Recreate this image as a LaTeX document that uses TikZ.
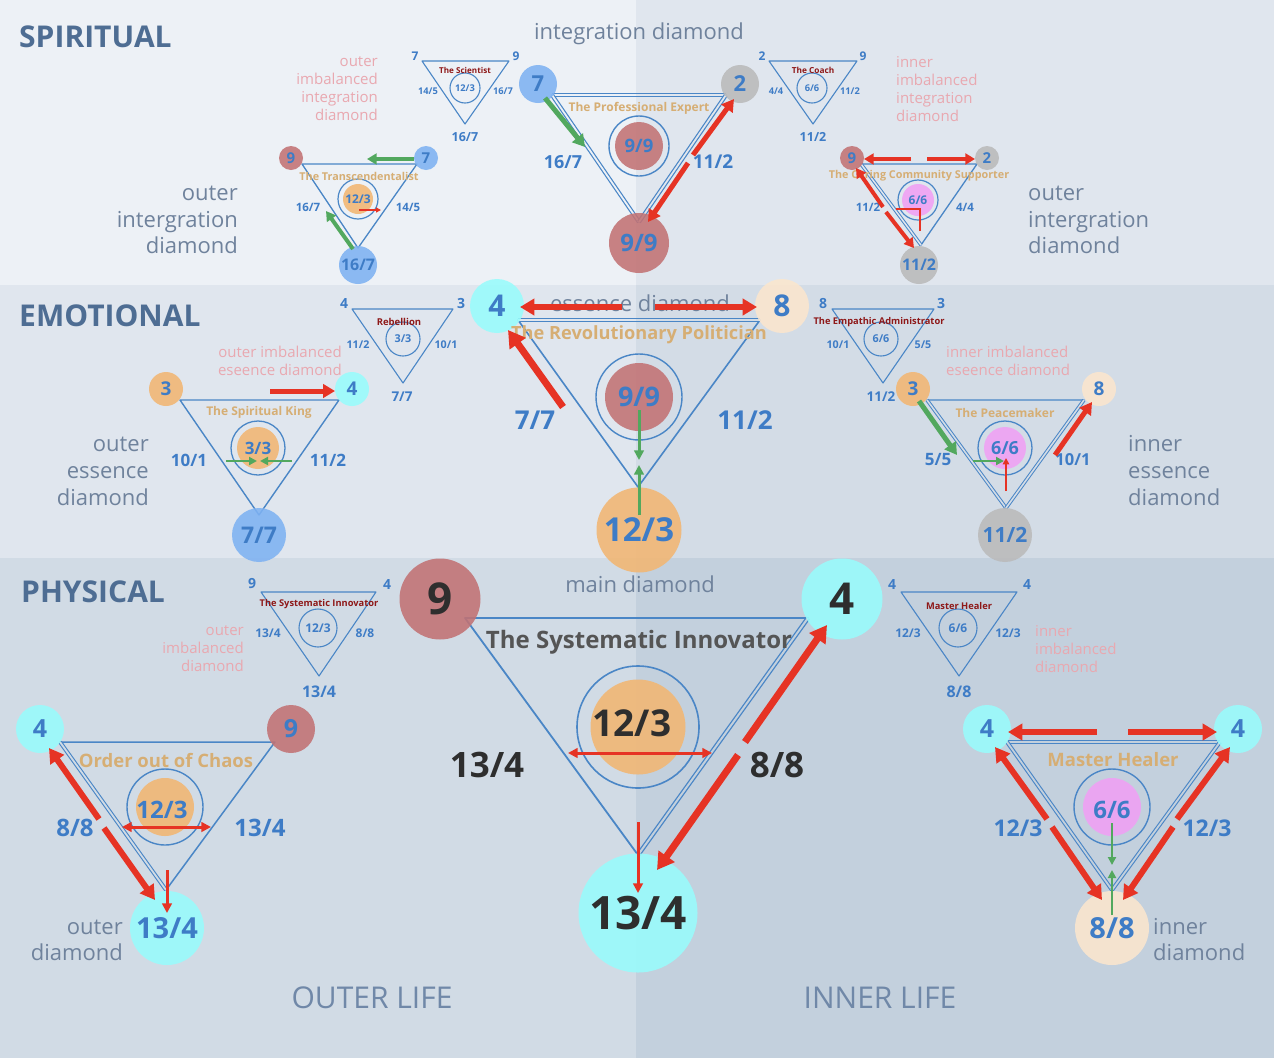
\documentclass[tikz,border=0pt]{standalone}
\usepackage{fontspec}
\setmainfont{Open Sans}
\usetikzlibrary{arrows.meta}
\definecolor{tblue}{HTML}{3E7CC6}
\definecolor{lblue}{HTML}{4A86C6}
\definecolor{ccyan}{HTML}{98FCFC}
\definecolor{cred}{HTML}{C27274}
\definecolor{cgray}{HTML}{BABABA}
\definecolor{cblue}{HTML}{7EB2F2}
\definecolor{corange}{HTML}{F2B672}
\definecolor{cbeige}{HTML}{FBE6CE}
\definecolor{cpink}{HTML}{F0A0F4}
\definecolor{arred}{HTML}{E63324}
\definecolor{argreen}{HTML}{52A85E}
\definecolor{ttan}{HTML}{D6AE74}
\definecolor{tdred}{HTML}{8E1818}
\definecolor{tpink}{HTML}{E9A8B0}
\definecolor{tgray}{HTML}{6F829C}
\definecolor{tlife}{HTML}{7088A8}
\definecolor{ttitle}{HTML}{4E6D93}
\definecolor{tdark}{HTML}{2E2E2E}
\definecolor{tsys}{HTML}{555555}
\definecolor{bgA}{HTML}{EDF1F6}
\definecolor{bgB}{HTML}{E0E6EE}
\definecolor{bgC}{HTML}{D3DCE6}
\definecolor{bgD}{HTML}{D1DBE5}
\definecolor{bgE}{HTML}{C3D0DD}
\newcommand\fsz[2]{\fontsize{#1}{#2}\selectfont}
\pgfdeclarelayer{bgl}
\pgfdeclarelayer{tril}
\pgfdeclarelayer{arrl}
\pgfsetlayers{bgl,tril,main,arrl}
\begin{document}
\begin{tikzpicture}[x=1pt,y=-1pt,
  tri/.style={draw=lblue, line width=1.6pt, line join=round},
  stri/.style={draw=lblue, line width=1.1pt, line join=round},
  dbl/.style={draw=lblue, line width=1.2pt, double=#1, double distance=1.8pt},
  ring/.style={draw=lblue, line width=1.4pt},
  sring/.style={circle, draw=lblue, line width=1.1pt, inner sep=0pt, minimum size=#1},
  cir/.style={circle, inner sep=0pt, minimum size=#1, fill opacity=0.88, text opacity=1},
  tb/.style={text=tblue, inner sep=0pt, font={\fsz{#1}{#1}\bfseries}},
  tk/.style={text=tdark, inner sep=0pt, font={\fsz{#1}{#1}\bfseries}},
  tt/.style={text=ttan, inner sep=0pt, font={\fsz{#1}{#1}\bfseries}},
  tr/.style={text=tdred, inner sep=0pt, font={\fsz{#1}{#1}\bfseries}},
  tsec/.style={text=ttitle, inner sep=0pt, font={\fsz{30}{30}\bfseries}},
  tg/.style 2 args={text=tgray, inner sep=0pt, font={\fsz{#1}{#2}}},
  tp/.style 2 args={text=tpink, inner sep=0pt, font={\fsz{#1}{#2}}},
  ra/.style={draw=arred, line width=#1, -{Triangle[length=0pt 2.4 0, width=0pt 2.7 0]}},
  rat/.style={draw=arred, line width=#1, -{Triangle[length=0pt 3.2 0, width=0pt 3.2 0]}},
  rdt/.style={draw=arred, line width=#1, {Triangle[length=0pt 3.2 0, width=0pt 3.2 0]}-{Triangle[length=0pt 3.2 0, width=0pt 3.2 0]}},
  ga/.style={draw=argreen, line width=#1, -{Triangle[length=0pt 2.4 0, width=0pt 2.7 0]}},
  gat/.style={draw=argreen, line width=#1, -{Triangle[length=0pt 3.2 0, width=0pt 3.2 0]}},
]
\path[use as bounding box] (0,0) rectangle (1274,1058);
% ---------------- backgrounds
\begin{pgfonlayer}{bgl}
\fill[bgA] (0,0) rectangle (636,285);
\fill[bgB] (636,0) rectangle (1274,285);
\fill[bgB] (0,285) rectangle (636,558);
\fill[bgC] (636,285) rectangle (1274,558);
\fill[bgD] (0,558) rectangle (636,1058);
\fill[bgE] (636,558) rectangle (1274,1058);
\end{pgfonlayer}
% ---------------- section titles and descriptors
\node[tsec, anchor=west] (sSp) at (19,37) {SPIRITUAL};
\node[tsec, anchor=west] (sEm) at (19,316) {EMOTIONAL};
\node[tsec, anchor=west] (sPh) at (21,592) {PHYSICAL};
\node[tg={22}{26}] (dInt) at (639,34) {integration diamond};
\node[tg={22}{26}] (dEss) at (640,303) {essence diamond};
\node[tg={22}{26}] (dMain) at (640,584) {main diamond};
\node[tg={22}{26.5}, align=right, anchor=east] (dOI) at (238,220) {outer\\intergration\\diamond};
\node[tg={22}{26.5}, align=left, anchor=west] (dII) at (1028,220) {outer\\intergration\\diamond};
\node[tg={22}{27}, align=right, anchor=east] (dOE) at (149,471) {outer\\essence\\diamond};
\node[tg={22}{27}, align=left, anchor=west] (dIE) at (1128,471) {inner\\essence\\diamond};
\node[tg={22}{26}, align=right, anchor=east] (dOD) at (123,940) {outer\\diamond};
\node[tg={22}{26}, align=left, anchor=west] (dID) at (1153,940) {inner\\diamond};
\node[text=tlife, inner sep=0pt, font={\fsz{30}{30}}] (oLife) at (372,998) {OUTER LIFE};
\node[text=tlife, inner sep=0pt, font={\fsz{30}{30}}] (iLife) at (880,998) {INNER LIFE};
\node[tp={15}{18}, align=right, anchor=east] (pOI) at (378,89) {outer\\imbalanced\\integration\\diamond};
\node[tp={15}{18}, align=left, anchor=west] (pII) at (896,89) {inner\\imbalanced\\integration\\diamond};
\node[tp={15}{18}, align=right, anchor=east] (pOE) at (342,361) {outer imbalanced\\eseence diamond};
\node[tp={15}{18}, align=left, anchor=west] (pIE) at (946,361) {inner imbalanced\\eseence diamond};
\node[tp={15}{18}, align=right, anchor=east] (pOD) at (244,649) {outer\\imbalanced\\diamond};
\node[tp={15}{18}, align=left, anchor=west] (pID) at (1035,649) {inner\\imbalanced\\diamond};

% ================= SPIRITUAL =================
% main integration diamond
\begin{pgfonlayer}{tril}
\draw[tri] (552,95) -- (726,95) -- (639,222) -- cycle;
\draw[dbl=bgA] (552,95) -- (636,95);
\draw[dbl=bgB] (636,95) -- (726,95);
\draw[dbl=bgA] (552,95) -- (639,222);
\draw[dbl=bgB] (726,95) -- (639,222);
\draw[ring] (639,146) circle[radius=30pt];
\end{pgfonlayer}
\node[cir=38pt, fill=cblue, tb=22] (i7) at (538,84) {7};
\node[cir=38pt, fill=cgray, tb=22] (i2) at (740,84) {2};
\node[cir=48pt, fill=cred, tb=18.5] (i99) at (639,146) {9/9};
\node[cir=60pt, fill=cred, tb=24] (iB) at (639,243) {9/9};
\node[tt=12] (iT) at (639,108) {The Professional Expert};
\node[tb=18] (iL1) at (563,162) {16/7};
\node[tb=19] (iL2) at (713,162) {11/2};
\begin{pgfonlayer}{arrl}
\draw[ga=5pt] (545,98) -- (585,147);
\draw[ra=5pt] (693,155) -- (734,99);
\draw[ra=5pt] (688,163) -- (648,222);
\end{pgfonlayer}
% The Scientist
\begin{pgfonlayer}{tril}
\draw[stri] (422,61) -- (509,61) -- (465,124) -- cycle;
\end{pgfonlayer}
\node[sring=30pt, tb=9.3] (sciC) at (465,88) {12/3};
\node[tr=8.1] (sciT) at (465,70) {The Scientist};
\node[tb=12] (sciA) at (415,56) {7};
\node[tb=12] (sciB) at (516,56) {9};
\node[tb=9.3] (sciL) at (428,91) {14/5};
\node[tb=9.3] (sciR) at (503,91) {16/7};
\node[tb=12.5] (sciD) at (465,137) {16/7};
% The Coach
\begin{pgfonlayer}{tril}
\draw[stri] (769,61) -- (857,61) -- (813,124) -- cycle;
\end{pgfonlayer}
\node[sring=30pt, tb=9.3] (coC) at (812,88) {6/6};
\node[tr=8.3] (coT) at (813,70) {The Coach};
\node[tb=12] (coA) at (762,56) {2};
\node[tb=12] (coB) at (863,56) {9};
\node[tb=9.3] (coL) at (776,91) {4/4};
\node[tb=9.3] (coR) at (850,91) {11/2};
\node[tb=12.5] (coD) at (813,137) {11/2};
% The Transcendentalist
\begin{pgfonlayer}{tril}
\draw[tri, line width=1.3pt] (302,164) -- (417,164) -- (358,248) -- cycle;
\draw[ring, line width=1.2pt] (358,199) circle[radius=20pt];
\end{pgfonlayer}
\node[cir=24pt, fill=cred, tb=15] (tr9) at (291,158) {9};
\node[cir=24pt, fill=cblue, tb=15] (tr7) at (426,158) {7};
\node[cir=30pt, fill=corange, tb=12] (trC) at (358,199) {12/3};
\node[cir=38pt, fill=cblue, tb=16] (trB) at (358,265) {16/7};
\node[tt=10.8] (trT) at (359,176) {The Transcendentalist};
\node[tb=11.5] (trL) at (308,207) {16/7};
\node[tb=11.5] (trR) at (408,207) {14/5};
\begin{pgfonlayer}{arrl}
\draw[rat=1.5pt] (359,210) -- (381,210);
\draw[ga=4pt] (414,159) -- (367,159);
\draw[ga=4pt] (353,249) -- (326,211);
\end{pgfonlayer}
% The Caring Community Supporter
\begin{pgfonlayer}{tril}
\draw[tri, line width=1.3pt] (861,164) -- (977,164) -- (921,245) -- cycle;
\draw[dbl=bgB, line width=1pt, double distance=1.5pt] (861,164) -- (921,245);
\draw[ring, line width=1.2pt] (918,200) circle[radius=20pt];
\end{pgfonlayer}
\node[cir=24pt, fill=cred, tb=15] (cc9) at (852,158) {9};
\node[cir=24pt, fill=cgray, tb=15] (cc2) at (987,158) {2};
\node[cir=32pt, fill=cpink, tb=12] (ccC) at (918,200) {6/6};
\node[cir=38pt, fill=cgray, tb=16] (ccB) at (919,265) {11/2};
\node[tt=10.8] (ccT) at (919,176) {The Caring Community Supporter};
\node[tb=11.5] (ccL) at (868,207) {11/2};
\node[tb=11.5] (ccR) at (965,207) {4/4};
\begin{pgfonlayer}{arrl}
\draw[arred, line width=1.5pt] (896,209) -- (920,209) -- (920,231);
\draw[ra=4pt] (911,159) -- (864,159);
\draw[ra=4pt] (927,159) -- (975,159);
\draw[ra=4pt] (883,207) -- (856,168);
\draw[ra=4pt] (886,212) -- (914,248);
\end{pgfonlayer}

% ================= EMOTIONAL =================
% main essence diamond
\begin{pgfonlayer}{tril}
\draw[tri] (518,320) -- (760,320) -- (638,487) -- cycle;
\draw[dbl=bgB] (518,320) -- (636,320);
\draw[dbl=bgC] (636,320) -- (760,320);
\draw[ring] (639,397) circle[radius=43pt];
\end{pgfonlayer}
\node[cir=54pt, fill=ccyan, tb=30] (e4) at (497,306) {4};
\node[cir=54pt, fill=cbeige, tb=30] (e8) at (782,306) {8};
\node[cir=68pt, fill=cred, tb=27] (e99) at (639,397) {9/9};
\node[cir=85pt, fill=corange, tb=33] (eB) at (639,530) {12/3};
\node[tt=18.2] (eT) at (639,335) {The Revolutionary Politician};
\node[tb=26] (eL1) at (535,420) {7/7};
\node[tb=26] (eL2) at (745,420) {11/2};
\begin{pgfonlayer}{arrl}
\draw[ra=6pt] (622,307) -- (520,307);
\draw[ra=6pt] (655,307) -- (757,307);
\draw[ra=7pt] (563,407) -- (508,330);
\draw[gat=3pt] (639,410) -- (639,460);
\draw[gat=3pt] (639,515) -- (639,465);
\end{pgfonlayer}
% The Spiritual King
\begin{pgfonlayer}{tril}
\draw[tri, line width=1.4pt] (180,400) -- (339,400) -- (259,515) -- cycle;
\draw[ring, line width=1.3pt] (258,448) circle[radius=27pt];
\end{pgfonlayer}
\node[cir=34pt, fill=corange, tb=19] (sk3) at (166,389) {3};
\node[cir=34pt, fill=ccyan, tb=19] (sk4) at (352,389) {4};
\node[cir=42pt, fill=corange, tb=17] (skC) at (258,448) {3/3};
\node[cir=54pt, fill=cblue, tb=23] (skB) at (259,535) {7/7};
\node[tt=12] (skT) at (259,412) {The Spiritual King};
\node[tb=17] (skL) at (189,460) {10/1};
\node[tb=17] (skR) at (328,460) {11/2};
\begin{pgfonlayer}{arrl}
\draw[gat=2.5pt] (226,461) -- (257,461);
\draw[gat=2.5pt] (292,461) -- (260,461);
\draw[ra=5pt] (270,391) -- (335,391);
\end{pgfonlayer}
% Rebellion
\begin{pgfonlayer}{tril}
\draw[stri] (352,309) -- (453,309) -- (403,383) -- cycle;
\end{pgfonlayer}
\node[sring=34pt, tb=10.8] (rbC) at (403,339) {3/3};
\node[tr=9.5] (rbT) at (399,322) {Rebellion};
\node[tb=14] (rbA) at (344,303) {4};
\node[tb=14] (rbB) at (461,303) {3};
\node[tb=10.7] (rbL) at (358,345) {11/2};
\node[tb=10.7] (rbR) at (446,345) {10/1};
\node[tb=13.5] (rbD) at (402,397) {7/7};
% The Empathic Administrator
\begin{pgfonlayer}{tril}
\draw[stri] (832,309) -- (934,309) -- (883,383) -- cycle;
\end{pgfonlayer}
\node[sring=34pt, tb=10.8] (eaC) at (881,339) {6/6};
\node[tr=9.3] (eaT) at (879,322) {The Empathic Administrator};
\node[tb=14] (eaA) at (823,303) {8};
\node[tb=14] (eaB) at (941,303) {3};
\node[tb=10.7] (eaL) at (838,345) {10/1};
\node[tb=10.7] (eaR) at (923,345) {5/5};
\node[tb=13.5] (eaD) at (881,397) {11/2};
% The Peacemaker
\begin{pgfonlayer}{tril}
\draw[tri, line width=1.4pt] (927,400) -- (1084,400) -- (1006,508) -- cycle;
\draw[dbl=bgC, line width=1pt, double distance=1.6pt] (927,400) -- (1006,508);
\draw[dbl=bgC, line width=1pt, double distance=1.6pt] (1084,400) -- (1006,508);
\draw[ring, line width=1.3pt] (1005,448) circle[radius=27pt];
\end{pgfonlayer}
\node[cir=34pt, fill=corange, tb=19] (pm3) at (913,389) {3};
\node[cir=34pt, fill=cbeige, tb=19] (pm8) at (1099,389) {8};
\node[cir=42pt, fill=cpink, tb=18] (pmC) at (1005,448) {6/6};
\node[cir=54pt, fill=cgray, tb=21] (pmB) at (1005,535) {11/2};
\node[tt=12] (pmT) at (1005,413) {The Peacemaker};
\node[tb=17] (pmL) at (938,460) {5/5};
\node[tb=16.5] (pmR) at (1073,460) {10/1};
\begin{pgfonlayer}{arrl}
\draw[gat=2.5pt] (973,461) -- (1004,461);
\draw[rat=2pt] (1006,491) -- (1006,458);
\draw[ga=5pt] (919,401) -- (957,455);
\draw[ra=5pt] (1055,455) -- (1092,402);
\end{pgfonlayer}

% ================= PHYSICAL =================
% main diamond
\begin{pgfonlayer}{tril}
\draw[tri, line width=1.8pt] (465,618) -- (808,618) -- (638,855) -- cycle;
\draw[dbl=bgE, line width=1.3pt, double distance=2pt] (808,618) -- (638,855);
\draw[ring, line width=1.6pt] (638,727) circle[radius=61pt];
\end{pgfonlayer}
\node[cir=81pt, fill=cred, tk=44] (m9) at (440,599) {9};
\node[cir=81pt, fill=ccyan, tk=44] (m4) at (842,599) {4};
\node[cir=95pt, fill=corange, tk=37] (mC) at (638,727) {};
\node[tk=37] (mCt) at (632,723) {12/3};
\node[cir=119pt, fill=ccyan, tk=46] (mB) at (638,913) {13/4};
\node[text=tsys, inner sep=0pt, font={\fsz{24}{24}\bfseries}] (mT) at (639,642) {The Systematic Innovator};
\node[tk=35] (mL) at (487,765) {13/4};
\node[tk=35] (mR) at (777,765) {8/8};
\begin{pgfonlayer}{arrl}
\draw[rdt=3pt] (568,753) -- (712,753);
\draw[rat=3pt] (638,822) -- (638,893);
\draw[ra=7pt] (745,742) -- (827,625);
\draw[ra=7pt] (738,755) -- (657,870);
\end{pgfonlayer}
% small Systematic Innovator
\begin{pgfonlayer}{tril}
\draw[stri] (261,592) -- (376,592) -- (319,676) -- cycle;
\end{pgfonlayer}
\node[sring=38pt, tb=12] (ssC) at (318,628) {12/3};
\node[tr=9.3] (ssT) at (319,604) {The Systematic Innovator};
\node[tb=14] (ssA) at (252,584) {9};
\node[tb=14] (ssB) at (387,584) {4};
\node[tb=12] (ssL) at (268,633) {13/4};
\node[tb=12] (ssR) at (365,633) {8/8};
\node[tb=16] (ssD) at (319,692) {13/4};
% Order out of Chaos
\begin{pgfonlayer}{tril}
\draw[tri, line width=1.5pt] (60,742) -- (275,742) -- (166,890) -- cycle;
\draw[dbl=bgD, line width=1.1pt, double distance=1.8pt] (60,742) -- (166,890);
\draw[ring, line width=1.4pt] (165,807) circle[radius=38pt];
\end{pgfonlayer}
\node[cir=48pt, fill=ccyan, tb=25] (oc4) at (40,729) {4};
\node[cir=48pt, fill=cred, tb=25] (oc9) at (291,729) {9};
\node[cir=58pt, fill=corange] (ocC) at (165,807) {};
\node[tb=24] (ocCt) at (162,810) {12/3};
\node[cir=74pt, fill=ccyan, tb=29] (ocB) at (167,928) {13/4};
\node[tt=18.5] (ocT) at (166,760) {Order out of Chaos};
\node[tb=24] (ocL) at (75,828) {8/8};
\node[tb=24] (ocR) at (260,828) {13/4};
\begin{pgfonlayer}{arrl}
\draw[rdt=3pt] (122,827) -- (211,827);
\draw[rat=3pt] (167,870) -- (167,913);
\draw[ra=6pt] (99,819) -- (49,748);
\draw[ra=6pt] (104,828) -- (155,900);
\end{pgfonlayer}
% small Master Healer
\begin{pgfonlayer}{tril}
\draw[stri] (901,592) -- (1017,592) -- (959,676) -- cycle;
\end{pgfonlayer}
\node[sring=38pt, tb=12] (smC) at (958,628) {6/6};
\node[tr=9.3] (smT) at (959,606) {Master Healer};
\node[tb=14] (smA) at (892,584) {4};
\node[tb=14] (smB) at (1027,584) {4};
\node[tb=12] (smL) at (908,633) {12/3};
\node[tb=12] (smR) at (1008,633) {12/3};
\node[tb=16] (smD) at (959,692) {8/8};
% Master Healer
\begin{pgfonlayer}{tril}
\draw[dbl=bgE, line width=1.1pt, double distance=1.8pt] (1007,742) -- (1220,742);
\draw[dbl=bgE, line width=1.1pt, double distance=1.8pt] (1007,742) -- (1112,890);
\draw[dbl=bgE, line width=1.1pt, double distance=1.8pt] (1220,742) -- (1112,890);
\draw[ring, line width=1.4pt] (1112,807) circle[radius=38pt];
\end{pgfonlayer}
\node[cir=48pt, fill=ccyan, tb=25] (mh4a) at (987,729) {4};
\node[cir=48pt, fill=ccyan, tb=25] (mh4b) at (1238,729) {4};
\node[cir=58pt, fill=cpink] (mhC) at (1112,807) {};
\node[tb=24] (mhCt) at (1112,810) {6/6};
\node[cir=74pt, fill=cbeige, tb=29] (mhB) at (1112,928) {8/8};
\node[tt=18.5] (mhT) at (1113,760) {Master Healer};
\node[tb=23] (mhL) at (1018,828) {12/3};
\node[tb=23] (mhR) at (1207,828) {12/3};
\begin{pgfonlayer}{arrl}
\draw[gat=2.5pt] (1112,823) -- (1112,865);
\draw[gat=2.5pt] (1112,915) -- (1112,870);
\draw[ra=6pt] (1097,732) -- (1008,732);
\draw[ra=6pt] (1128,732) -- (1217,732);
\draw[ra=6pt] (1047,819) -- (995,747);
\draw[ra=6pt] (1052,827) -- (1102,900);
\draw[ra=6pt] (1177,819) -- (1230,747);
\draw[ra=6pt] (1173,827) -- (1123,900);
\end{pgfonlayer}
\end{tikzpicture}
\end{document}
